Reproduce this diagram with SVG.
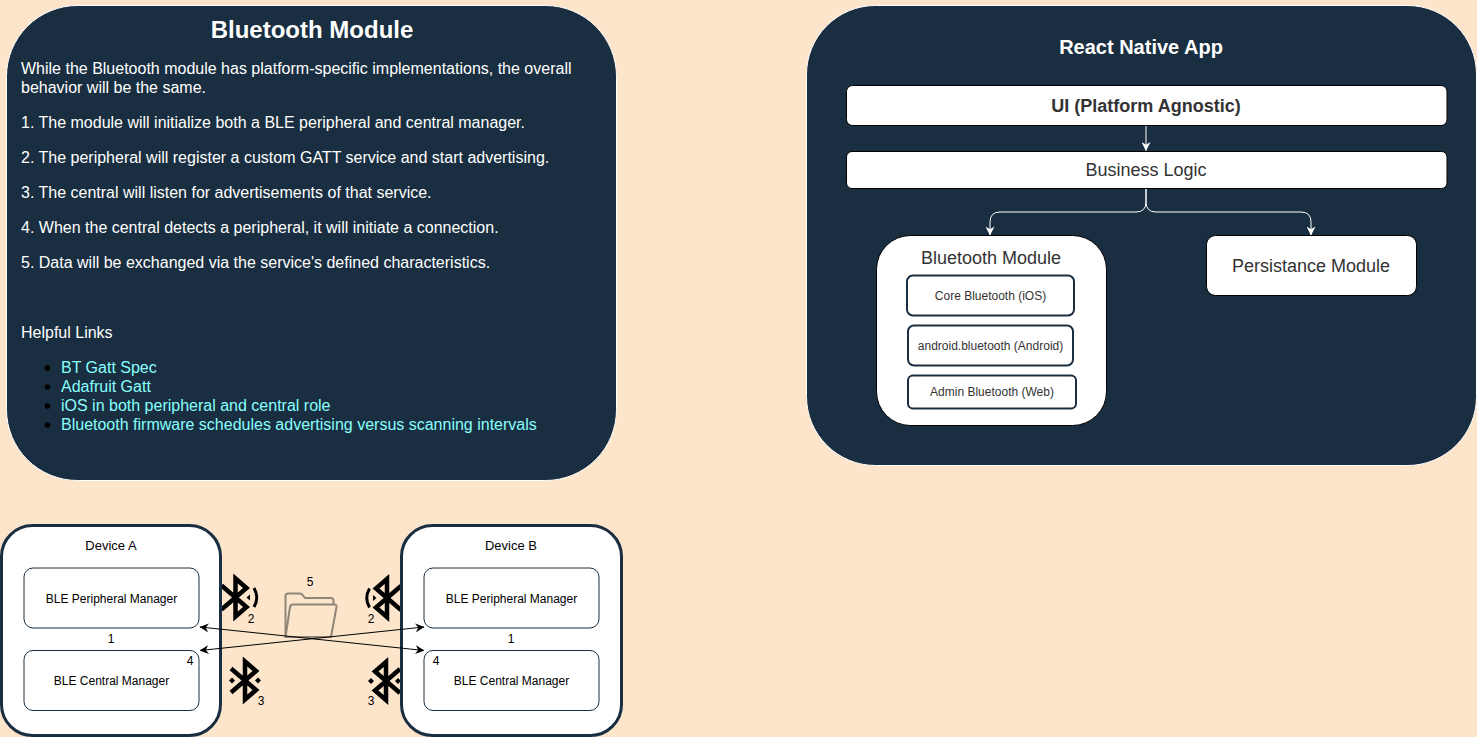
<svg xmlns="http://www.w3.org/2000/svg" width="1477" height="737" viewBox="0 0 1477 737">
<defs>
<marker id="ab" viewBox="0 0 10 10" refX="9.500" refY="5" markerWidth="9" markerHeight="9" markerUnits="userSpaceOnUse" orient="auto-start-reverse"><path d="M0 0L10 5L0 10L3 5Z" fill="#000"/></marker>
<marker id="aw" viewBox="0 0 10 10" refX="9.500" refY="5" markerWidth="9" markerHeight="9" markerUnits="userSpaceOnUse" orient="auto"><path d="M0 0L10 5L0 10L3 5Z" fill="#fff"/></marker>
<g id="bt"><path d="M-14 -12L11 9.500L0 19V-19L11 -9.500L-14 12" fill="none" stroke="#000" stroke-width="4.500"/></g>
</defs>
<style>
text{font-family:"Liberation Sans",Arial,Helvetica,sans-serif}
.panel{fill:#192e40;stroke:#fff;stroke-width:1}
.w{fill:#fff}.c{text-anchor:middle}
.body{font-size:16px;fill:#fff}
.lnk{font-size:16px;fill:#8ff}
.box{fill:#fff;stroke:#000;stroke-width:1}
.sub{fill:#fff;stroke:#192e40;stroke-width:2}
.dev{fill:#fff;stroke:#192e40;stroke-width:3}
.mgr{fill:#fff;stroke:#192e40;stroke-width:1}
.t12{font-size:12px;fill:#000}
.t13{font-size:13px;fill:#000}
.dk{fill:#333}
.cw{fill:none;stroke:#fff;stroke-width:1;marker-end:url(#aw)}
.ck{fill:none;stroke:#000;stroke-width:1;marker-end:url(#ab);marker-start:url(#ab)}
</style>
<rect width="1477" height="737" fill="#fde5cc"/>
<g id="bluetooth-panel">
<rect class="panel" x="6.500" y="5.500" width="610" height="475" rx="71" ry="71"/>
<text class="c" x="312" y="38" font-size="24" font-weight="700" fill="#fff">Bluetooth Module</text>
<text class="body" x="21" y="74">While the Bluetooth module has platform-specific implementations, the overall</text>
<text class="body" x="21" y="93">behavior will be the same.</text>
<text class="body" x="21" y="128">1. The module will initialize both a BLE peripheral and central manager.</text>
<text class="body" x="21" y="163">2. The peripheral will register a custom GATT service and start advertising.</text>
<text class="body" x="21" y="198">3. The central will listen for advertisements of that service.</text>
<text class="body" x="21" y="233">4. When the central detects a peripheral, it will initiate a connection.</text>
<text class="body" x="21" y="268">5. Data will be exchanged via the service's defined characteristics.</text>
<text class="body" x="21" y="338">Helpful Links</text>
<circle cx="47.500" cy="368" r="2.800"/><circle cx="47.500" cy="387" r="2.800"/><circle cx="47.500" cy="406" r="2.800"/><circle cx="47.500" cy="425" r="2.800"/>
<text class="lnk" x="61" y="373">BT Gatt Spec</text>
<text class="lnk" x="61" y="392">Adafruit Gatt</text>
<text class="lnk" x="61" y="411">iOS in both peripheral and central role</text>
<text class="lnk" x="61" y="430">Bluetooth firmware schedules advertising versus scanning intervals</text>
</g>
<g id="react-native-panel">
<rect class="panel" x="806.500" y="5.500" width="670" height="460" rx="69" ry="69"/>
<text class="c" x="1141" y="54" font-size="20" font-weight="700" fill="#fff">React Native App</text>
</g>
<g id="ui"><rect class="box" x="846.500" y="85.500" width="600.500" height="40" rx="6"/><text class="c dk" x="1146" y="112" font-size="18" font-weight="700">UI (Platform Agnostic)</text></g>
<g id="business-logic"><rect class="box" x="846.500" y="151.500" width="600.500" height="37" rx="5.500"/><text class="c dk" x="1146" y="176" font-size="18">Business Logic</text></g>
<g id="bt-module"><rect class="box" x="876.500" y="235.500" width="230" height="190" rx="34"/><text class="c dk" x="991" y="264" font-size="18">Bluetooth Module</text></g>
<g id="core-bt"><rect class="sub" x="907" y="275.500" width="167" height="40" rx="6"/><text class="c dk" x="990.500" y="300" font-size="12">Core Bluetooth (iOS)</text></g>
<g id="android-bt"><rect class="sub" x="908" y="325.500" width="165" height="40" rx="6"/><text class="c dk" x="990.500" y="349.500" font-size="12">android.bluetooth (Android)</text></g>
<g id="admin-bt"><rect class="sub" x="908" y="375.500" width="168" height="33" rx="5"/><text class="c dk" x="992" y="396" font-size="12">Admin Bluetooth (Web)</text></g>
<g id="persistance"><rect class="box" x="1206.500" y="235.500" width="210" height="60" rx="9"/><text class="c dk" x="1311" y="272" font-size="18">Persistance Module</text></g>
<g id="icons">
<use href="#bt" x="235.500" y="597.500"/>
<path d="M246.500 597.500L250 594.500V600.500Z"/><path d="M254 588Q259.500 597.500 254 607" fill="none" stroke="#000" stroke-width="3"/>
<use href="#bt" x="245" y="680.500"/>
<path d="M232 677.500L235 680.500L232 683.500L229 680.500Z"/><path d="M258 677.500L261 680.500L258 683.500L255 680.500Z"/>
<use href="#bt" transform="translate(387 598) scale(-1 1)"/>
<path d="M376.500 598L373 595V601Z"/><path d="M369.500 588.500Q364 598 369.500 607.500" fill="none" stroke="#000" stroke-width="3"/>
<use href="#bt" transform="translate(386 681) scale(-1 1)"/>
<path d="M371 678L374 681L371 684L368 681Z"/><path d="M398 678L401 681L398 684L395 681Z"/>
</g>
<g id="device-a"><rect class="dev" x="1.500" y="525.500" width="219" height="210" rx="31"/><text class="c t13" x="111" y="550">Device A</text></g>
<g id="device-b"><rect class="dev" x="401.500" y="525.500" width="220" height="210" rx="31"/><text class="c t13" x="511" y="550">Device B</text></g>
<g id="a-peripheral"><rect class="mgr" x="24" y="568" width="175" height="60" rx="9"/><text class="c t12" x="111.500" y="603">BLE Peripheral Manager</text></g>
<g id="a-central"><rect class="mgr" x="24" y="650.500" width="175" height="60" rx="9"/><text class="c t12" x="111.500" y="685">BLE Central Manager</text><text class="c t12" x="190" y="665">4</text></g>
<g id="b-peripheral"><rect class="mgr" x="424" y="568" width="175" height="60" rx="9"/><text class="c t12" x="511.500" y="603">BLE Peripheral Manager</text></g>
<g id="b-central"><rect class="mgr" x="424" y="650.500" width="175" height="60" rx="9"/><text class="c t12" x="511.500" y="685">BLE Central Manager</text><text class="c t12" x="436" y="665">4</text></g>
<text class="c t12" x="111" y="643">1</text>
<text class="c t12" x="511" y="643">1</text>
<g id="folder" fill="none" stroke="#8f8578" stroke-width="2" stroke-linejoin="round">
<path d="M285.500 637V596Q285.500 593.500 288 593.500H300Q302 593.500 303 595.500L305 598H331Q333.500 598 333.500 600.500V604.500"/>
<path d="M285.500 637L290 607Q290.500 604.500 293 604.500H334.500Q337 604.500 336.500 607L331 637Z"/>
</g>
<g id="connectors">
<path class="cw" d="M1146 126V150.500"/>
<path class="cw" d="M1146 189V202Q1146 212 1136 212H1000Q990 212 990 222V235"/>
<path class="cw" d="M1146 189V202Q1146 212 1156 212H1301Q1311 212 1311 222V235"/>
<path class="ck" d="M200 627L424 650.500"/>
<path class="ck" d="M200 650.500L424 627"/>
</g>
<text class="c t12" x="251" y="623">2</text>
<text class="c t12" x="261" y="705">3</text>
<text class="c t12" x="310" y="586">5</text>
<text class="c t12" x="371" y="623">2</text>
<text class="c t12" x="371" y="705">3</text>
</svg>
